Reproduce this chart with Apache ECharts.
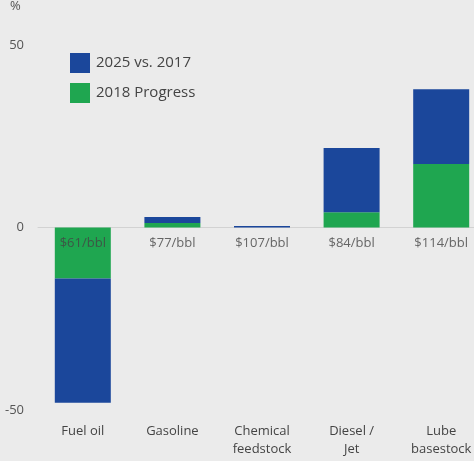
<!DOCTYPE html>
<html>
<head>
<meta charset="utf-8">
<script src="https://cdn.jsdelivr.net/npm/echarts@6/dist/echarts.min.js"></script>
<style>
  html, body { margin: 0; padding: 0; background: #ebebeb; }
  #chart { width: 474px; height: 461px; }
</style>
</head>
<body>
<div id="chart"></div>
<script>
// Margin change by product, in percent
const categories = ['Fuel oil', 'Gasoline', 'Chemical\nfeedstock', 'Diesel /\nJet', 'Lube\nbasestock'];
const progress2018 = [-14, 1.2, 0, 4.2, 17.4];
const target2025 = [-34, 1.7, 0.4, 17.6, 20.5];
const prices = ['$61/bbl', '$77/bbl', '$107/bbl', '$84/bbl', '$114/bbl'];
const yTicks = [-50, 0, 50];

const font = '"Open Sans", "Noto Sans", sans-serif';
const chart = echarts.init(document.getElementById('chart'));

chart.setOption({
  backgroundColor: '#ebebeb',
  textStyle: { fontFamily: font },
  animation: false,
  graphic: [{
    type: 'text', left: 10, top: 0,
    style: { text: '%', fontSize: 13, fill: '#555', fontFamily: font }
  }],
  legend: {
    orient: 'vertical',
    left: 70, top: 53, padding: 0,
    itemWidth: 20, itemHeight: 20, itemGap: 10,
    data: ['2025 vs. 2017', '2018 Progress'],
    textStyle: { fontSize: 15, color: '#444', fontFamily: font, padding: [0, 0, 0, 1] },
    icon: 'rect'
  },
  grid: {
    left: 38, top: 45, width: 448, bottom: 51,
    containLabel: false, outerBoundsMode: 'none'
  },
  xAxis: {
    type: 'category',
    data: categories,
    axisLine: { show: true, onZero: true, lineStyle: { color: '#d2d2d2', width: 1 } },
    axisTick: { show: false },
    axisLabel: {
      color: '#444', fontSize: 13, lineHeight: 18, margin: 12,
      fontFamily: font, interval: 0
    }
  },
  yAxis: {
    type: 'value',
    min: -50, max: 50, interval: 50,
    axisLine: { show: false },
    axisTick: { show: false },
    splitLine: { show: false },
    axisLabel: {
      color: '#555', fontSize: 13, margin: 14, fontFamily: font,
      customValues: yTicks
    }
  },
  series: [
    {
      name: '2018 Progress', type: 'bar', stack: 'total',
      data: progress2018, barWidth: 56,
      itemStyle: { color: '#1fa650' }
    },
    {
      name: '2025 vs. 2017', type: 'bar', stack: 'total',
      data: target2025, barWidth: 56,
      itemStyle: { color: '#1b479b' }
    },
    {
      name: 'price', type: 'scatter',
      data: prices.map(() => 0),
      symbolSize: 0,
      silent: true,
      label: {
        show: true, position: 'bottom', distance: 9,
        formatter: (p) => prices[p.dataIndex],
        color: '#444', fontSize: 13, fontFamily: font
      },
      z: 5
    }
  ]
});
</script>
</body>
</html>
